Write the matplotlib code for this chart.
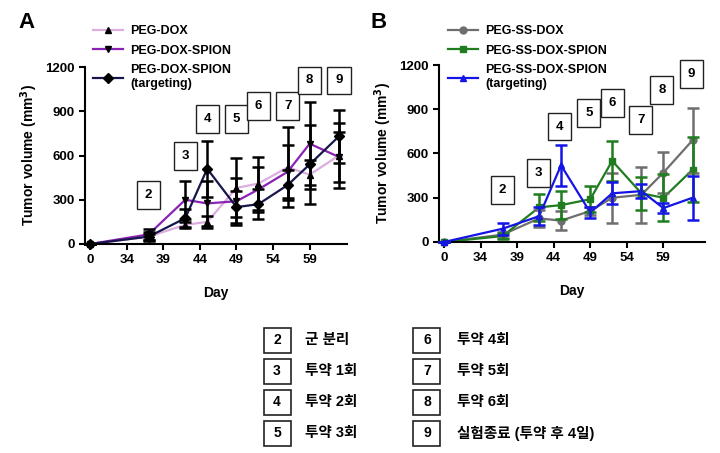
import numpy as np
import matplotlib.pyplot as plt
from matplotlib.lines import Line2D
from matplotlib.patches import Rectangle

plt.rcParams['font.family'] = ['Liberation Sans', 'Noto Sans CJK KR', 'DejaVu Sans']
plt.rcParams['font.weight'] = 'bold'

# 측정일 (0일 다음은 축이 끊겨 34일부터)
days = [0, 37, 42, 45, 49, 52, 56, 59, 63]
tick_days = [0, 34, 39, 44, 49, 54, 59]

# A
a_names = ['PEG-DOX', 'PEG-DOX-SPION', 'PEG-DOX-SPION\n(targeting)']
a_vals = [
    [0, 50, 130, 150, 380, 410, 520, 470, 600],
    [0, 65, 300, 275, 290, 370, 490, 680, 590],
    [0, 50, 175, 510, 250, 270, 400, 540, 730],
]
a_errs = [
    [0, 30, 20, 40, 200, 180, 270, 100, 220],
    [0, 35, 130, 155, 160, 150, 180, 280, 170],
    [0, 20, 60, 190, 110, 100, 100, 270, 180],
]
a_colors = ['#dcaee0', '#8a22b4', '#16164c']
a_markers = ['^', 'v', 'D']

# B
b_names = ['PEG-SS-DOX', 'PEG-SS-DOX-SPION', 'PEG-SS-DOX-SPION\n(targeting)']
b_vals = [
    [0, 50, 160, 145, 210, 300, 320, 470, 690],
    [0, 40, 235, 250, 290, 550, 330, 300, 490],
    [0, 90, 175, 520, 200, 330, 345, 230, 300],
]
b_errs = [
    [0, 20, 60, 65, 30, 170, 190, 140, 220],
    [0, 20, 90, 95, 90, 135, 110, 160, 220],
    [0, 40, 60, 140, 40, 75, 50, 35, 150],
]
b_colors = ['#6e6e6e', '#1f7d1f', '#1414e6']
b_markers = ['o', 's', '^']

# 번호 상자 위치 (day, volume)
a_boxes = [('2', 37, 330), ('3', 42, 596), ('4', 45, 850), ('5', 49, 850),
           ('6', 52, 934), ('7', 56, 934), ('8', 59, 1109), ('9', 63, 1109)]
b_boxes = [('2', 37, 350), ('3', 41.9, 467), ('4', 44.8, 783), ('5', 48.8, 873),
           ('6', 52, 941), ('7', 55.9, 828), ('8', 58.8, 1031), ('9', 62.8, 1139)]

notes_left = [('2', '군 분리'), ('3', '투약 1회'), ('4', '투약 2회'), ('5', '투약 3회')]
notes_right = [('6', '투약 4회'), ('7', '투약 5회'), ('8', '투약 6회'), ('9', '실험종료 (투약 후 4일)')]


def xpos(d):
    d = np.asarray(d, dtype=float)
    return np.where(d == 0, 29, d)


W, H = 720, 453
fig = plt.figure(figsize=(7.2, 4.53), dpi=100)


def px_axes(l, t, r, b):
    return fig.add_axes([l / W, 1 - b / H, (r - l) / W, (b - t) / H])


def panel(ax, vals, errs, colors, markers, names, boxes, black_marks, xmax):
    x = xpos(days)
    handles = []
    for v, e, c, m, n in zip(vals, errs, colors, markers, names):
        mc = 'black' if black_marks else c
        ec = 'black' if black_marks else c
        ax.errorbar(x, v, yerr=e, fmt='none', ecolor=ec, elinewidth=1.8,
                    capsize=4, capthick=1.8, zorder=3, clip_on=False)
        ax.plot(x, v, color=c, lw=1.6, marker=m, ms=5, mfc=mc, mec=mc, zorder=2,
                clip_on=False)
        handles.append(Line2D([], [], color=c, lw=1.6, marker=m, ms=5, mfc=mc, mec=mc))
    ax.set_xlim(28.3, xmax)
    ax.set_ylim(0, 1200)
    ax.set_xticks(xpos(tick_days))
    ax.set_xticklabels([str(t) for t in tick_days])
    ax.set_yticks([0, 300, 600, 900, 1200])
    ax.tick_params(labelsize=9.5, width=1.5, length=4)
    for s in ['top', 'right']:
        ax.spines[s].set_visible(False)
    for s in ['left', 'bottom']:
        ax.spines[s].set_linewidth(1.5)
    ax.set_ylabel('Tumor volume (mm$^3$)', fontsize=10, fontweight='bold', labelpad=4)
    ax.set_xlabel('Day', fontsize=10, fontweight='bold', labelpad=14)
    for lab, d, yv in boxes:
        ax.text(d, yv, lab, ha='center', va='center', fontsize=9.5, fontweight='bold',
                zorder=5, clip_on=False,
                bbox=dict(boxstyle='square,pad=0.6', fc='white', ec='#222222', lw=1))
    return handles


axA = px_axes(85, 67, 347, 244)
hA = panel(axA, a_vals, a_errs, a_colors, a_markers, a_names, a_boxes, True, 64.1)
axB = px_axes(439, 65, 705, 242)
hB = panel(axB, b_vals, b_errs, b_colors, b_markers, b_names, b_boxes, False, 64.7)

for h, names, lx in [(hA, a_names, 88), (hB, b_names, 443)]:
    fig.legend(h, names, loc='upper left', bbox_to_anchor=(lx / W, 1 - 20 / H),
               frameon=False, fontsize=9, handlelength=2.4, labelspacing=0.62,
               handletextpad=0.6, borderaxespad=0)

fig.text(18 / W, 1 - 23 / H, 'A', fontsize=16, fontweight='bold', va='center')
fig.text(371 / W, 1 - 22 / H, 'B', fontsize=16, fontweight='bold', va='center')

# 하단 번호 설명표
rows_y = [340, 371, 402, 433]
bw, bh = 27, 25
for col, (bx, tx) in zip([notes_left, notes_right], [(277, 305), (427, 457)]):
    for (num, txt), yy in zip(col, rows_y):
        fig.add_artist(Rectangle(((bx - bw / 2) / W, 1 - (yy + bh / 2) / H), bw / W, bh / H,
                                 transform=fig.transFigure, fc='white', ec='#222222', lw=1.2))
        fig.text(bx / W, 1 - yy / H, num, ha='center', va='center', fontsize=10,
                 fontweight='bold')
        fig.text(tx / W, 1 - yy / H, txt, ha='left', va='center', fontsize=10.5,
                 fontweight='bold')

fig.savefig('out.png', dpi=100)
